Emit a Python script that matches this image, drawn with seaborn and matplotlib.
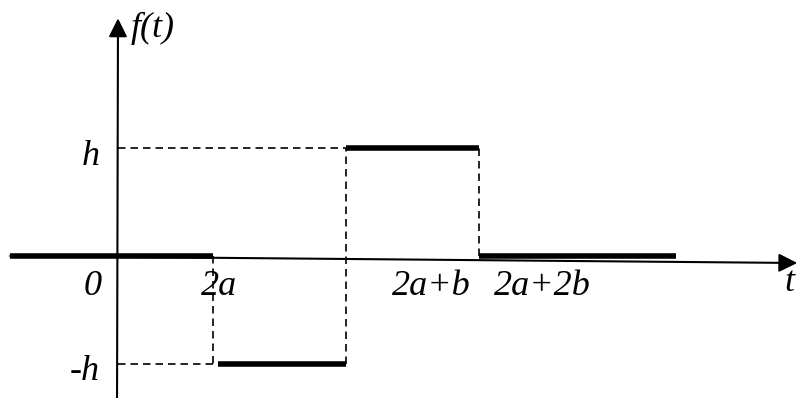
import pandas as pd
import matplotlib
matplotlib.use("Agg")
import matplotlib.pyplot as plt
import seaborn as sns

# piecewise function f(t), t in units where a = 1
seg_ids = [0, 0, 1, 1, 2, 2, 3, 3]
seg_t = [-2.27, 2.0, 2.1, 4.8, 4.8, 7.6, 7.6, 11.75]
seg_f = [0, 0, -1, -1, 1, 1, 0, 0]

tick_pos = [-0.53, 2.13, 6.59, 8.93]
tick_labels = ["0", "2a", "2a+b", "2a+2b"]
level_pos = [0.92, -1.07]
level_labels = ["h", "-h"]

sns.set_style("white")
plt.rcParams['font.family'] = ['Liberation Serif', 'DejaVu Serif']

fig = plt.figure(figsize=(8.02, 3.98), dpi=100)
ax = fig.add_axes([0, 0, 1, 1])

df = pd.DataFrame({"seg": seg_ids, "t": seg_t, "f": seg_f})

# dashed guide lines
dash = dict(color="black", lw=1.2, ls=(0, (4.5, 3)))
ax.plot([0, 4.8], [1, 1], **dash)
ax.plot([0, 2.0], [-1, -1], **dash)
ax.plot([2.0, 2.0], [0, -1], **dash)
ax.plot([4.8, 4.8], [-1, 1], **dash)
ax.plot([7.6, 7.6], [0, 1], **dash)

# axes with arrows
arrow = dict(arrowstyle="-|>", lw=1.5, color="black", mutation_scale=28, shrinkA=0, shrinkB=0)
ax.annotate("", xy=(14.3, -0.065), xytext=(-2.27, 0), arrowprops=arrow)
ax.annotate("", xy=(0, 2.2), xytext=(-0.02, -1.315), arrowprops=arrow)

sns.lineplot(data=df, x="t", y="f", units="seg", estimator=None, sort=False,
             color="black", lw=4, solid_capstyle="butt", ax=ax, legend=False)
ax.set_xlim(-2.484, 14.4)
ax.set_ylim(-1.315, 2.37)
ax.axis("off")

txt = dict(fontsize=26, style="italic", color="black")
for x, lab in zip(tick_pos, tick_labels):
    ax.text(x, -0.28, lab, ha="center", va="center", **txt)
for y, lab in zip(level_pos, level_labels):
    ax.text(-0.38, y, lab, ha="right", va="center", **txt)
ax.text(14.13, -0.25, "t", ha="center", va="center", **txt)
ax.text(0.27, 2.11, "f(t)", ha="left", va="center", **txt)

fig.savefig("out.png", dpi=100)
